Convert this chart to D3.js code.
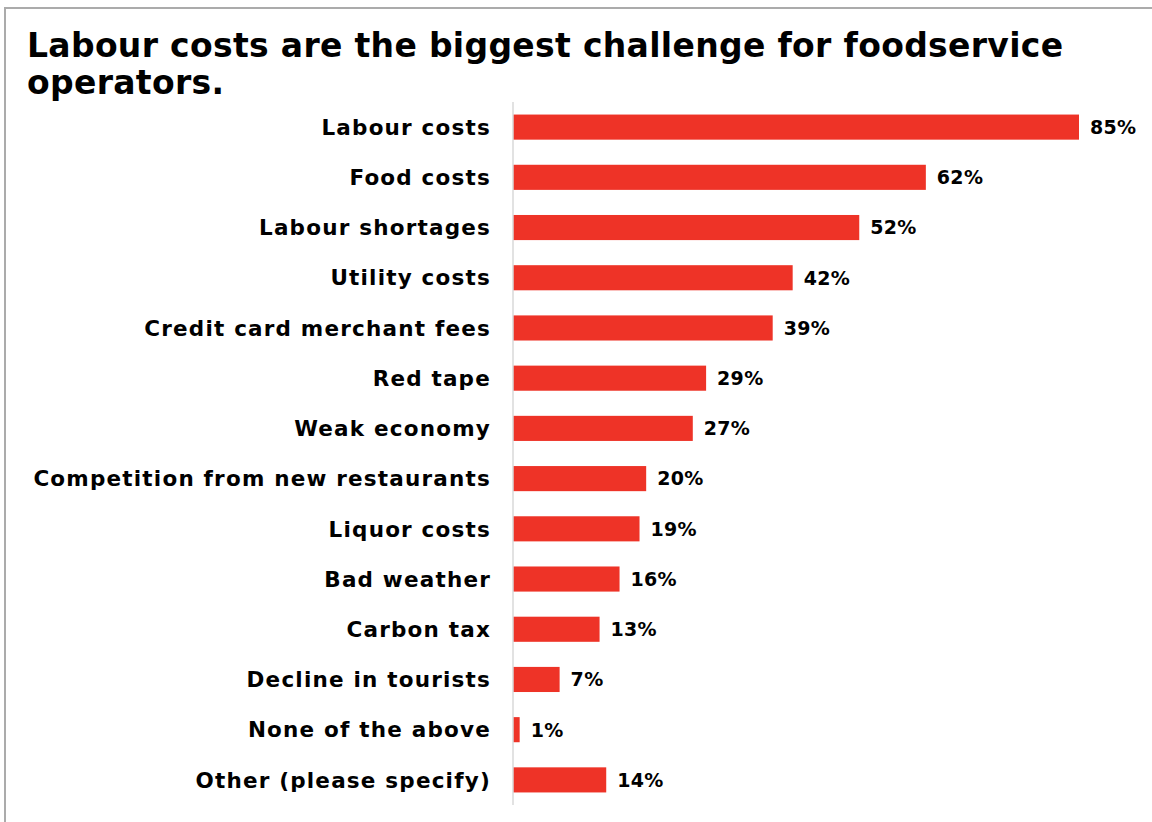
<!DOCTYPE html>
<html>
<head>
<meta charset="utf-8">
<script src="https://d3js.org/d3.v7.min.js"></script>
<style>
  body { margin: 0; background: #fff; }
  svg { display: block; font-family: "DejaVu Sans", Verdana, sans-serif; }
</style>
</head>
<body>
<div id="chart"></div>
<script>
// Chart data
const categories = [
  'Labour costs', 'Food costs', 'Labour shortages', 'Utility costs',
  'Credit card merchant fees', 'Red tape', 'Weak economy',
  'Competition from new restaurants', 'Liquor costs', 'Bad weather',
  'Carbon tax', 'Decline in tourists', 'None of the above', 'Other (please specify)'
];
const values = [85, 62, 52, 42, 39, 29, 27, 20, 19, 16, 13, 7, 1, 14];
const titleLines = ['Labour costs are the biggest challenge for foodservice', 'operators.'];

const width = 1152, height = 822;

const svg = d3.select('#chart')
  .append('svg')
  .attr('width', width)
  .attr('height', height);

// Frame
svg.append('rect')
  .attr('x', 5).attr('y', 8)
  .attr('width', width + 10).attr('height', height + 10)
  .attr('fill', 'none')
  .attr('stroke', '#ababab')
  .attr('stroke-width', 2);

// Title
svg.append('text')
  .attr('x', 27)
  .attr('font-size', 33)
  .attr('font-weight', 'bold')
  .attr('letter-spacing', 0.32)
  .attr('fill', '#000')
  .selectAll('tspan')
  .data(titleLines)
  .enter()
  .append('tspan')
  .attr('x', 27)
  .attr('y', (d, i) => 57 + i * 37)
  .text(d => d);

// Scales
const x = d3.scaleLinear().domain([0, 85]).range([513, 1079]);
const y = d3.scaleBand().domain(categories).range([102, 805]).paddingInner(0.5).paddingOuter(0.25);

// Bars
svg.append('g').selectAll('rect')
  .data(values)
  .enter()
  .append('rect')
  .attr('x', x(0))
  .attr('y', (d, i) => y(categories[i]))
  .attr('width', d => x(d) - x(0))
  .attr('height', y.bandwidth())
  .attr('fill', '#ee3327');

// Axis line
svg.append('line')
  .attr('x1', x(0)).attr('x2', x(0))
  .attr('y1', 102).attr('y2', 805)
  .attr('stroke', '#d9d9d9')
  .attr('stroke-width', 1.5);

// Category labels
svg.append('g').selectAll('text')
  .data(categories)
  .enter()
  .append('text')
  .attr('x', 491)
  .attr('y', d => y(d) + y.bandwidth() / 2)
  .attr('dy', '0.36em')
  .attr('text-anchor', 'end')
  .attr('font-size', 21.5)
  .attr('font-weight', 'bold')
  .attr('letter-spacing', 1.2)
  .attr('fill', '#000')
  .text(d => d);

// Value labels
svg.append('g').selectAll('text')
  .data(values)
  .enter()
  .append('text')
  .attr('x', d => x(d) + 11)
  .attr('y', (d, i) => y(categories[i]) + y.bandwidth() / 2)
  .attr('dy', '0.36em')
  .attr('font-size', 19)
  .attr('font-weight', 'bold')
  .attr('letter-spacing', 0.3)
  .attr('fill', '#000')
  .text(d => d + '%');
</script>
</body>
</html>
